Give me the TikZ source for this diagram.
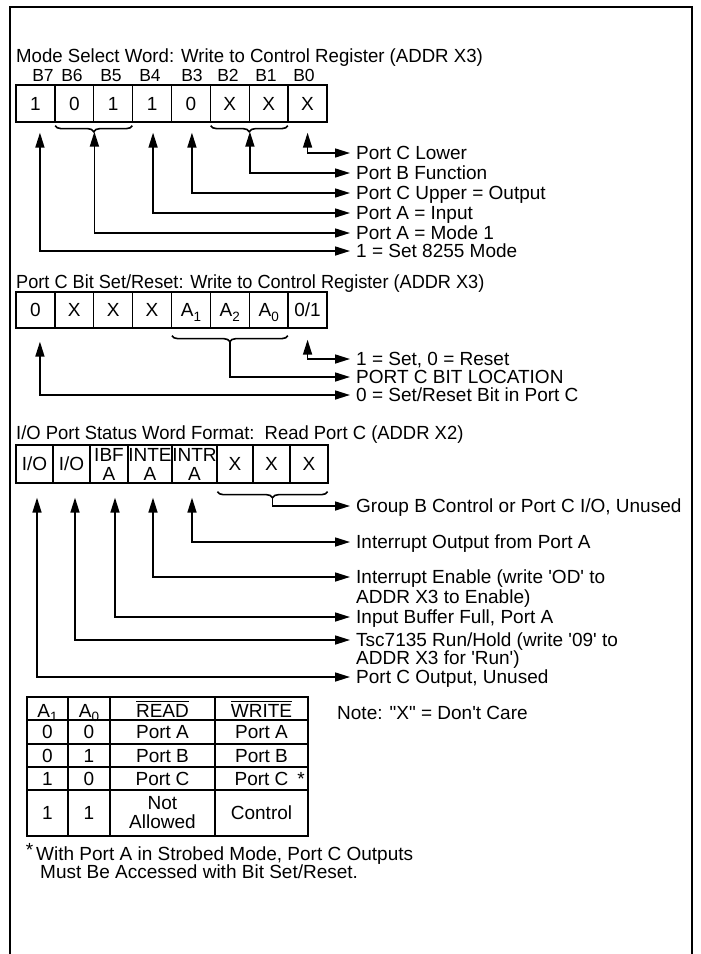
\documentclass[tikz,border=0pt]{standalone}
\usepackage{fontspec}
\setmainfont{Liberation Sans}
\usetikzlibrary{arrows.meta,calc,decorations.pathreplacing}
\newcommand\fs{\fontsize{19}{19.5}\selectfont}
\newcommand\subx[1]{\raisebox{-4.5pt}{\fontsize{13.5}{13.5}\selectfont #1}}
\newcommand\ovl[1]{\vbox{\hrule height 1.2pt\kern1.8pt\hbox{#1}}}
\newcommand\sq{\textquotesingle}
\begin{document}
\begin{tikzpicture}[x=1pt,y=-1pt,
  frame/.style={line width=1.5pt},
  txt/.style={font=\fs, inner sep=0pt, text height=13.6pt, text depth=0pt},
  ttl/.style={txt, anchor=west},
  blab/.style={inner sep=0pt, font=\fontsize{17.5}{18}\selectfont, text height=12.5pt, text depth=0pt},
  lbl/.style={txt, anchor=west, inner xsep=6pt},
  cell/.style={draw, line width=1.3pt, inner sep=0pt, font=\fs, text height=13.6pt, text depth=0pt},
  cellb/.style={draw, line width=1.3pt, inner sep=0pt, font=\fontsize{19}{19}\selectfont, align=center},
  tc/.style={cell},
  conn/.style={line width=1.6pt, {Triangle[length=15pt,width=9pt]}-{Triangle[length=15pt,width=9pt]}},
  connE/.style={line width=1.6pt, -{Triangle[length=15pt,width=9pt]}},
  br/.style={line width=1.6pt, decorate, decoration={brace, mirror, amplitude=6pt}},
]
\useasboundingbox (0,0) rectangle (701,954);
\draw[frame] (10,954) -- (10,7) -- (692,7) -- (692,954);

% ---------- Mode select word ----------
\node[ttl] (t1) at (16,56) {\scalebox{0.98}[1]{Mode Select Word: Write to Control Register (ADDR X3)}};
\foreach \i/\t/\x in {0/B7/43,1/B6/72,2/B5/111,3/B4/150,4/B3/192,5/B2/228,6/B1/266,7/B0/304}
  \node[blab] (bl\i) at (\x,75) {\t};
\foreach \i/\t in {0/1,1/0,2/1,3/1,4/0,5/X,6/X,7/X}
  \node[cell, minimum width=38.875pt, minimum height=37pt] (ma\i) at ({35.4375+38.875*\i},103.5) {\t};
\draw[br] ($(ma1.south west)+(1,3)$) -- ($(ma2.south east)+(-1,3)$);
\coordinate (bra) at ($(ma1.south east)+(0,9)$);
\draw[br] ($(ma5.south west)+(1,3)$) -- ($(ma6.south east)+(-1,3)$);
\coordinate (brb) at ($(ma5.south east)+(0,9)$);

\node[lbl] (la0) at (350,153) {Port C Lower};
\node[lbl] (la1) at (350,173) {Port B Function};
\node[lbl] (la2) at (350,193) {Port C Upper = Output};
\node[lbl] (la3) at (350,213) {Port A = Input};
\node[lbl] (la4) at (350,233) {Port A = Mode 1};
\node[lbl] (la5) at (350,251) {1 = Set 8255 Mode};

\draw[conn] ($(ma7.south)+(0,10)$) |- (la0.west);
\draw[conn] (brb) |- (la1.west);
\draw[conn] ($(ma4.south)+(1,10)$) |- (la2.west);
\draw[conn] ($(ma3.south)+(1,10)$) |- (la3.west);
\draw[conn] (bra) |- (la4.west);
\draw[conn] ($(ma0.south)+(4.5,10)$) |- (la5.west);

% ---------- Port C bit set/reset ----------
\node[ttl] (t2) at (16,282) {\scalebox{0.955}[1]{Port C Bit Set/Reset: Write to Control Register (ADDR X3)}};
\node[cell, minimum width=38.875pt, minimum height=36pt] (mb0) at (35.4375,310) {0};
\node[cell, minimum width=38.875pt, minimum height=36pt] (mb1) at (74.3125,310) {X};
\node[cell, minimum width=38.875pt, minimum height=36pt] (mb2) at (113.1875,310) {X};
\node[cell, minimum width=38.875pt, minimum height=36pt] (mb3) at (152.0625,310) {X};
\node[cell, minimum width=38.875pt, minimum height=36pt] (mb4) at (190.9375,310) {A\subx{1}};
\node[cell, minimum width=38.875pt, minimum height=36pt] (mb5) at (229.8125,310) {A\subx{2}};
\node[cell, minimum width=38.875pt, minimum height=36pt] (mb6) at (268.6875,310) {A\subx{0}};
\node[cell, minimum width=38.875pt, minimum height=36pt] (mb7) at (307.5625,310) {0/1};
\draw[br] ($(mb4.south west)+(1,7)$) -- ($(mb6.south east)+(-1,7)$);
\coordinate (brc) at ($(mb5.south)+(0,13)$);

\node[lbl] (lb0) at (350,359) {1 = Set, 0 = Reset};
\node[lbl] (lb1) at (350,377) {PORT C BIT LOCATION};
\node[lbl] (lb2) at (350,395) {0 = Set/Reset Bit in Port C};

\draw[conn] ($(mb7.south)+(0,11)$) |- (lb0.west);
\draw[connE] (brc) |- (lb1.west);
\draw[conn] ($(mb0.south)+(4.5,13)$) |- (lb2.west);

% ---------- I/O port status word ----------
\node[ttl] (t3) at (16,433) {\scalebox{0.97}[1]{I/O Port Status Word Format:\ \ Read Port C (ADDR X2)}};
\node[cell, minimum width=37pt, minimum height=38pt] (mc0) at (34.5,464) {I/O};
\node[cell, minimum width=37pt, minimum height=38pt] (mc1) at (71.5,464) {I/O};
\node[cellb, minimum width=38pt, minimum height=38pt] (mc2) at (109,464) {IBF\\A};
\node[cellb, minimum width=44pt, minimum height=38pt] (mc3) at (150,464) {INTE\\A};
\node[cellb, minimum width=45pt, minimum height=38pt] (mc4) at (194.5,464) {INTR\\A};
\node[cell, minimum width=36pt, minimum height=38pt] (mc5) at (235,464) {X};
\node[cell, minimum width=37pt, minimum height=38pt] (mc6) at (271.5,464) {X};
\node[cell, minimum width=38pt, minimum height=38pt] (mc7) at (309,464) {X};
\draw[br] ($(mc5.south west)+(1,8)$) -- ($(mc7.south east)+(-1,8)$);
\coordinate (brd) at ($(mc5.south west)!0.5!(mc7.south east)+(0,14)$);

\node[lbl] (lc0) at (350,506) {Group B Control or Port C I/O, Unused};
\node[lbl] (lc1) at (350,542) {Interrupt Output from Port A};
\node[lbl] (lc2) at (350,577) {Interrupt Enable (write \sq OD\sq{} to};
\node[ttl] (lc2b) at (356,597) {ADDR X3 to Enable)};
\node[lbl] (lc3) at (350,617) {Input Buffer Full, Port A};
\node[lbl] (lc4) at (350,640) {Tsc7135 Run/Hold (write \sq 09\sq{} to};
\node[ttl] (lc4b) at (356,658) {ADDR X3 for \sq Run\sq)};
\node[lbl] (lc5) at (350,677) {Port C Output, Unused};

\draw[connE] (brd) |- (lc0.west);
\draw[conn] ($(mc4.south)+(-2.5,14)$) |- (lc1.west);
\draw[conn] ($(mc3.south)+(3,14)$) |- (lc2.west);
\draw[conn] ($(mc2.south)+(6,14)$) |- (lc3.west);
\draw[conn] ($(mc1.south)+(3.5,14)$) |- (lc4.west);
\draw[conn] ($(mc0.south)+(2.5,14)$) |- (lc5.west);

% ---------- Table ----------
\node[tc, minimum width=41pt, minimum height=23pt, text height=17pt] (h1) at (47.5,708.5) {A\subx{1}};
\node[tc, minimum width=42pt, minimum height=23pt, text height=17pt] (h2) at (89,708.5) {A\subx{0}};
\node[tc, minimum width=105pt, minimum height=23pt, text height=17pt] (h3) at (162.5,708.5) {\ovl{READ}};
\node[tc, minimum width=93pt, minimum height=23pt, text height=17pt] (h4) at (261.5,708.5) {\ovl{WRITE}};

\node[tc, minimum width=41pt, minimum height=24pt] (r1a) at (47.5,732) {0};
\node[tc, minimum width=42pt, minimum height=24pt] (r1b) at (89,732) {0};
\node[tc, minimum width=105pt, minimum height=24pt] (r1c) at (162.5,732) {Port A};
\node[tc, minimum width=93pt, minimum height=24pt] (r1d) at (261.5,732) {Port A};

\node[tc, minimum width=41pt, minimum height=23pt] (r2a) at (47.5,755.5) {0};
\node[tc, minimum width=42pt, minimum height=23pt] (r2b) at (89,755.5) {1};
\node[tc, minimum width=105pt, minimum height=23pt] (r2c) at (162.5,755.5) {Port B};
\node[tc, minimum width=93pt, minimum height=23pt] (r2d) at (261.5,755.5) {Port B};

\node[tc, minimum width=41pt, minimum height=23pt] (r3a) at (47.5,778.5) {1};
\node[tc, minimum width=42pt, minimum height=23pt] (r3b) at (89,778.5) {0};
\node[tc, minimum width=105pt, minimum height=23pt] (r3c) at (162.5,778.5) {Port C};
\node[tc, minimum width=93pt, minimum height=23pt] (r3d) at (261.5,778.5) {Port C};
\node[txt] (ast) at (301,778.5) {*};

\node[tc, minimum width=41pt, minimum height=46pt] (r4a) at (47.5,813) {1};
\node[tc, minimum width=42pt, minimum height=46pt] (r4b) at (89,813) {1};
\node[cellb, minimum width=105pt, minimum height=46pt] (r4c) at (162.5,813) {Not\\Allowed};
\node[tc, minimum width=93pt, minimum height=46pt] (r4d) at (261.5,813) {Control};

\node[ttl] (note) at (337,713) {Note: \textquotedbl X\textquotedbl{} = Don\sq t Care};

\node[txt] (fnstar) at (29.5,850) {*};
\node[ttl] (fn1) at (36,854) {With Port A in Strobed Mode, Port C Outputs};
\node[ttl] (fn2) at (40,872) {Must Be Accessed with Bit Set/Reset.};
\end{tikzpicture}
\end{document}
